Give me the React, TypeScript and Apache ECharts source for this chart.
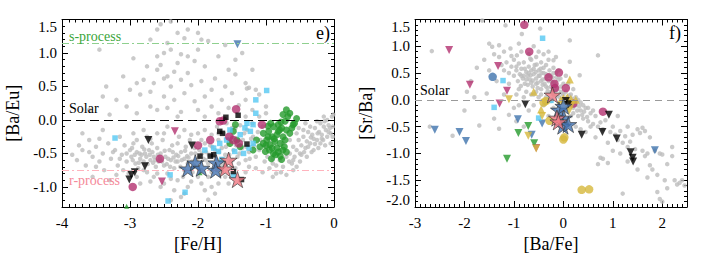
import React, { useEffect, useRef } from 'react';
import * as echarts from 'echarts';

type P = [number, number];

// ---------- Panel e) [Fe/H] vs [Ba/Eu] ----------
const leftGray: P[] = [
  [-3.45,1.05],[-2.55,1.43],[-2.4,1.47],[-2.2,1.22],[-2.0,1.3],[-2.6,1.35],[-2.45,1.15],[-1.85,1.18],[-1.6,1.12],[-2.7,1.2],
  [-2.95,0.92],[-2.75,0.8],[-2.6,0.75],[-2.55,0.82],[-2.3,0.85],[-2.35,0.72],[-2.15,0.95],[-2.05,0.88],[-1.9,0.8],[-2.8,0.6],
  [-2.65,0.55],[-2.5,0.62],[-2.4,0.5],[-2.25,0.6],[-2.1,0.52],[-1.95,0.58],[-1.75,0.62],[-1.55,0.75],[-1.45,0.68],[-1.3,0.55],
  [-1.25,0.48],[-1.15,0.45],[-1.1,0.38],[-2.85,0.38],[-2.7,0.42],[-2.5,0.35],[-2.35,0.3],[-2.2,0.4],[-2.05,0.28],[-1.9,0.35],
  [-1.8,0.2],[-1.65,0.3],[-1.5,0.4],[-1.4,0.22],[-1.3,0.3],[-3.2,0.3],[-3.05,0.2],[-3.3,0.08],[-3.6,0.15],[-2.9,0.1],
  [-2.6,0.15],[-2.45,0.18],[-2.25,0.12],[-2.0,0.15],[-1.7,0.1],[-1.55,0.18],[-1.2,0.15],[-1.0,0.2],[-3.35,0.5],[-2.0,1.05],
  [-1.7,0.95],[-1.35,1.0],[-3.1,0.65],[-1.2,0.75],[-1.28,0.47],
  [-2.9,0.55],[-2.6,0.95],[-2.4,1.05],[-2.3,1.3],[-2.15,1.35],[-1.95,1.2],[-2.25,0.98],[-2.5,1.0],[-1.8,0.45],[-1.6,0.5],
  [-2.15,0.7],[-2.45,0.65],[-2.7,0.2],[-2.3,0.05],[-1.9,0.05],[-3.4,0.35],[-3.0,0.45],[-1.45,0.9],
  [-3.85,-0.52],[-3.78,-0.6],[-3.7,-0.45],[-3.65,-0.68],[-3.6,-0.3],[-3.55,-0.55],[-3.5,-0.4],[-3.45,-0.62],[-3.4,-0.5],[-3.38,-0.75],
  [-3.32,-0.35],[-3.28,-0.58],[-3.22,-0.45],[-3.18,-0.68],[-3.12,-0.52],[-3.08,-0.38],[-3.05,-0.62],[-3.02,-0.8],[-3.4,-0.15],[-3.55,-0.85],
  [-3.7,-0.2],[-3.3,-0.9],[-3.15,-0.25],[-3.0,-0.45],
  [-2.98,-0.55],[-2.95,-0.35],[-2.92,-0.65],[-2.9,-0.48],[-2.88,-0.72],[-2.85,-0.58],[-2.82,-0.4],[-2.8,-0.62],[-2.78,-0.5],[-2.75,-0.78],
  [-2.72,-0.45],[-2.7,-0.6],[-2.68,-0.35],[-2.65,-0.55],[-2.62,-0.7],[-2.6,-0.42],[-2.58,-0.62],[-2.55,-0.5],[-2.52,-0.3],[-2.5,-0.68],
  [-2.48,-0.55],[-2.45,-0.8],[-2.42,-0.45],[-2.4,-0.6],[-2.38,-0.38],[-2.35,-0.72],[-2.32,-0.52],[-2.3,-0.62],[-2.28,-0.25],[-2.25,-0.48],
  [-2.22,-0.85],[-2.2,-0.58],[-2.18,-0.4],[-2.15,-0.65],[-2.12,-0.3],[-2.1,-0.5],[-2.08,-0.78],[-2.05,-0.42],[-2.02,-0.6],[-2.9,-0.85],
  [-2.7,-0.92],[-2.5,-0.95],[-2.35,-1.05],[-2.25,-1.15],[-2.4,-1.2],[-2.6,-0.2],[-2.8,-0.15],[-2.45,-0.1],[-2.2,-0.15],[-2.0,-0.2],
  [-2.95,-0.2],[-2.65,-0.85],[-2.3,-0.9],[-2.55,-1.0],[-2.15,-1.0],[-2.1,-0.92],[-2.75,-0.25],[-2.85,-0.95],[-2.2,-1.1],
  [-2.86,-0.5],[-2.76,-0.55],[-2.66,-0.64],[-2.56,-0.58],[-2.46,-0.66],[-2.36,-0.56],[-2.26,-0.7],[-2.16,-0.54],[-2.06,-0.68],[-2.96,-0.6],
  [-3.25,-0.48],[-3.15,-0.58],[-3.05,-0.5],[-2.97,-0.42],[-2.93,-0.52],[-2.87,-0.64],[-2.83,-0.52],[-2.79,-0.44],[-2.74,-0.66],[-2.71,-0.52],
  [-2.67,-0.48],[-2.63,-0.6],[-2.59,-0.52],[-2.53,-0.62],[-2.49,-0.46],[-2.44,-0.58],[-2.41,-0.7],[-2.37,-0.48],[-2.33,-0.62],[-2.29,-0.54],
  [-2.24,-0.6],[-2.19,-0.46],[-2.14,-0.56],[-2.09,-0.62],[-2.04,-0.5],[-1.99,-0.56],[-1.94,-0.5],[-1.89,-0.6],[-1.84,-0.52],[-1.79,-0.4],
  [-1.74,-0.58],[-1.69,-0.48],[-1.64,-0.66],[-1.59,-0.4],[-1.54,-0.52],[-1.49,-0.6],[-1.44,-0.38],[-1.39,-0.5],[-1.34,-0.3],[-1.29,-0.4],
  [-1.24,-0.58],[-1.19,-0.25],[-3.5,-0.7],[-3.6,-0.48],[-3.75,-0.38],[-3.45,-0.28],[-2.9,-0.3],[-2.7,-0.28],[-2.5,-0.2],[-2.3,-0.35],
  [-2.1,-0.22],[-1.9,-0.35],[-1.7,-0.2],[-1.5,-0.12],[-2.8,-0.75],[-2.6,-0.8],[-2.4,-0.88],[-2.2,-0.75],[-2.0,-0.85],[-1.8,-0.78],
  [-1.6,-0.68],[-1.4,-0.65],[-3.1,-0.75],[-3.2,-0.82],
  [-1.98,-0.45],[-1.95,-0.3],[-1.92,-0.58],[-1.9,-0.15],[-1.88,-0.48],[-1.85,-0.65],[-1.82,-0.38],[-1.8,-0.22],[-1.78,-0.55],[-1.75,-0.45],
  [-1.72,-0.1],[-1.7,-0.3],[-1.68,-0.6],[-1.65,-0.42],[-1.62,-0.2],[-1.6,-0.52],[-1.58,-0.05],[-1.55,-0.35],[-1.52,-0.62],[-1.5,-0.25],
  [-1.48,-0.45],[-1.45,-0.12],[-1.42,-0.55],[-1.4,-0.3],[-1.38,-0.08],[-1.35,-0.42],[-1.32,-0.2],[-1.3,-0.6],[-1.28,-0.15],[-1.25,-0.48],
  [-1.22,-0.28],[-1.2,-0.05],[-1.18,-0.38],[-1.15,-0.55],[-1.12,-0.18],[-1.1,-0.45],[-1.08,-0.3],[-1.05,-0.1],[-1.02,-0.62],[-1.0,-0.4],
  [-1.85,-0.85],[-1.8,-1.0],[-1.75,-1.1],[-1.7,-0.95],[-1.9,-1.05],[-1.95,-0.95],[-1.6,-0.85],[-1.55,-0.95],[-1.3,-0.78],[-1.25,-0.7],
  [-1.45,-0.72],[-1.65,-0.78],[-1.15,-0.72],[-1.05,-0.78],[-1.6,0.02],[-1.3,0.05],[-1.1,0.05],[-1.95,-0.75],[-1.85,-1.19],[-1.72,-0.75],
  [-0.98,-0.55],[-0.95,-0.72],[-0.9,-0.65],[-0.85,-0.8],[-0.8,-0.6],[-0.75,-0.7],[-0.7,-0.55],[-0.65,-0.5],[-0.62,-0.65],[-0.6,-0.4],
  [-0.58,-0.55],[-0.55,-0.45],[-0.52,-0.3],[-0.5,-0.5],[-0.48,-0.38],[-0.45,-0.25],[-0.42,-0.42],[-0.4,-0.32],[-0.38,-0.18],[-0.35,-0.35],
  [-0.32,-0.22],[-0.3,-0.28],[-0.28,-0.12],[-0.25,-0.3],[-0.22,-0.18],[-0.2,-0.05],[-0.18,-0.22],[-0.15,-0.1],[-0.12,-0.15],[-0.1,0.0],
  [-0.08,-0.08],[-0.05,-0.2],[-0.03,0.05],[-0.02,-0.1],[-0.01,0.08],[-0.15,0.05],[-0.25,-0.02],[-0.35,-0.1],[-0.45,-0.15],[-0.55,-0.2],
  [-0.65,-0.3],[-0.7,-0.82],[-0.6,-0.75],[-0.5,-0.62],[-0.4,-0.55],[-0.3,-0.45],[-0.2,-0.35],[-0.1,-0.25],[-0.05,-0.35],[-0.95,-0.3],
  [-1.0,0.1],[-0.8,-0.45],[-0.9,-0.85],[-0.75,-0.35],[-0.44,-0.48],[-0.34,-0.26],[-0.24,-0.2],[-0.14,-0.02],[-0.06,-0.12],[-0.16,-0.3],
  [-0.9,-0.58],[-0.85,-0.68],[-0.78,-0.78],[-0.66,-0.62],[-0.55,-0.7],[-0.48,-0.52],[-0.38,-0.4],[-0.28,-0.36],[-0.18,-0.28],[-0.08,-0.18],
  [-0.33,-0.48],[-0.23,-0.42],[-0.13,-0.38],[-0.02,-0.25],[-0.6,-0.6],[-0.42,-0.05],[-0.52,-0.12]
];
const leftGreen: P[] = [
  [-0.70,0.15],[-0.65,0.10],[-0.55,0.02],[-0.72,-0.02],[-0.82,-0.07],[-0.89,-0.10],[-0.77,-0.12],[-0.70,-0.15],[-0.96,-0.17],[-1.04,-0.20],
  [-0.84,-0.22],[-0.91,-0.25],[-0.75,-0.25],[-0.99,-0.30],[-0.87,-0.32],[-0.79,-0.35],[-0.94,-0.37],[-1.09,-0.40],[-0.84,-0.42],[-0.75,-0.45],
  [-1.01,-0.47],[-0.89,-0.50],[-0.79,-0.54],[-1.19,-0.45],[-1.14,-0.30],[-0.77,-0.59],[-0.97,-0.09],[-0.82,-0.17],[-0.72,-0.30],[-0.65,-0.20],
  [-0.60,-0.07],[-0.91,-0.42],[-1.04,-0.35],[-1.48,-0.17],[-1.43,-0.30],[-1.53,-0.35],[-1.38,-0.40],[-0.93,-0.05],[-0.78,-0.03],[-0.68,0.05],
  [-0.88,-0.28],[-0.73,-0.40],[-0.95,-0.45],[-0.86,-0.52],[-0.80,-0.15],[-0.62,-0.12],[-1.00,-0.38],[-0.92,-0.58],[-0.82,-0.48],[-0.70,-0.48],
  [-0.58,-0.05],[-0.75,0.08],[-0.97,-0.25],[-1.45,-0.07]
];
const leftGreenSmall: P[] = [[-1.97,-0.79],[-3.05,-1.29]];
const leftCyan: P[] = [
  [-0.99,0.44],[-1.15,0.30],[-1.15,0.10],[-1.28,-0.05],[-1.19,-0.07],[-1.31,-0.12],[-1.23,-0.17],[-1.38,-0.22],[-1.53,-0.15],[-1.58,-0.30],
  [-1.68,-0.35],[-1.77,-0.42],[-1.70,-0.47],[-1.46,-0.47],[-1.33,-0.50],[-1.19,-0.35],[-3.22,-0.27],[-2.41,-0.82],[-2.44,-1.21],[-2.19,-1.08],
  [-1.48,-0.84],[-1.65,-0.59],[-1.90,-0.45],[-1.25,-0.42]
];
const leftMagentaCircle: P[] = [
  [-1.44,0.16],[-1.68,-0.02],[-1.63,-0.01],[-1.06,-0.07],[-1.48,-0.30],[-1.40,-0.35],[-1.82,-0.30],[-2.00,-0.38],[-2.56,-0.58],[-2.96,-1.00],[-1.54,-0.25]
];
const leftMagentaTri: P[] = [[-2.34,-0.17],[-2.53,-0.92]];
const leftBlackTri: P[] = [[-2.73,-0.30],[-2.78,-0.69],[-2.93,-0.78],[-2.98,-0.82],[-3.01,-0.89],[-2.09,-0.38]];
const leftBlackSq: P[] = [[-1.59,0.04],[-1.41,0.07],[-1.68,-0.17],[-1.64,-0.20],[-1.28,-0.36],[-1.97,-0.54],[-1.82,-0.54],[-1.77,-0.52],[-1.48,-0.77],[-1.36,-0.89]];
const leftBlueTri: P[] = [[-1.42,1.13]];
const leftBlueStar: P[] = [[-2.15,-0.73],[-2.04,-0.64],[-1.95,-0.72],[-1.73,-0.64],[-1.74,-0.75]];
const leftPinkStar: P[] = [[-1.55,-0.60],[-1.60,-0.73],[-1.42,-0.89]];
const sProcess = 1.15;
const rProcess = -0.75;
const solar = 0;

// ---------- Panel f) [Ba/Fe] vs [Sr/Ba] ----------
const rightGray: P[] = [
  [-1.64,1.48],[-1.17,1.39],[-0.47,1.33],[0.13,1.11],[-0.84,1.23],[-1.5,1.05],[-1.44,0.99],[-2.66,0.91],[-1.07,0.96],[-0.94,0.83],
  [-0.67,0.77],[-0.2,0.74],[0.33,0.46],[0.7,0.83],[0.13,0.71],
  [-1.4,0.85],[-1.3,0.8],[-1.25,0.65],[-1.2,0.55],[-1.15,0.7],[-1.1,0.5],[-1.05,0.62],[-1.0,0.45],[-1.0,0.75],[-0.95,0.55],
  [-0.92,0.35],[-0.9,0.68],[-0.88,0.48],[-0.85,0.58],[-0.82,0.4],[-0.8,0.7],[-0.78,0.3],[-0.75,0.52],[-0.72,0.45],[-0.7,0.62],
  [-0.68,0.38],[-0.65,0.55],[-0.62,0.25],[-0.6,0.48],[-0.58,0.65],[-0.55,0.4],[-0.52,0.32],[-0.5,0.55],[-0.48,0.45],[-0.45,0.2],
  [-0.42,0.38],[-0.4,0.6],[-0.38,0.3],[-0.35,0.48],[-0.32,0.15],[-0.3,0.35],[-0.28,0.55],[-0.25,0.25],[-0.22,0.42],[-0.2,0.1],
  [-0.18,0.32],[-0.15,0.5],[-0.12,0.2],[-0.1,0.38],[-0.08,0.05],[-0.05,0.25],[-0.02,0.12],[0.0,0.3],[0.03,0.0],[0.05,0.15],
  [0.08,0.05],[0.1,-0.05],[0.12,0.08],[0.15,-0.1],[0.18,0.02],[0.2,-0.15],[-0.9,0.2],[-0.75,0.15],[-0.6,0.1],[-0.5,0.05],
  [-0.35,0.05],[-0.25,-0.02],[-0.65,0.75],[-0.55,0.8],[-0.45,0.7],[-0.35,0.65],[-0.85,0.9],[-0.7,0.85],[-1.1,0.3],[-0.3,0.75],
  [-0.2,0.6],[-0.1,0.55],[0.05,0.45],[0.1,0.3],[0.2,0.2],[-0.95,0.1],[-1.2,0.1],[-1.35,0.35],[-0.6,-0.1],[-0.7,-0.2],
  [-0.78,0.58],[-0.66,0.46],[-0.56,0.52],[-0.46,0.58],[-0.36,0.4],[-0.26,0.46],[-0.16,0.26],[-0.06,0.4],[-0.62,0.36],[-0.52,0.22],
  [-0.42,0.28],[-0.32,0.22],[-0.22,0.16],[-0.12,0.08],[-0.72,0.28],[-0.86,0.26],[-0.54,0.66],[-0.44,0.5],[-0.24,0.34],[-0.14,0.42],
  [-0.8,0.45],[-0.7,0.5],[-0.6,0.58],[-0.5,0.45],[-0.4,0.5],[-0.3,0.45],[-0.2,0.5],[-0.65,0.32],[-0.55,0.3],[-0.45,0.35],
  [-0.35,0.25],[-0.25,0.15],[-0.15,0.18],[-0.05,0.15],[0.0,0.1],[-0.75,0.38],[-0.85,0.45],[-0.95,0.62],[-1.05,0.82],[-1.2,0.9],
  [-1.3,1.02],[-0.5,0.9],[-0.4,0.85],[-0.3,0.9],[-0.15,0.8],[-0.6,1.0],[-0.9,1.05],[0.25,0.05],[0.3,0.0],[0.35,-0.05],
  [0.15,0.1],[0.4,-0.1],[0.5,-0.15],[0.6,-0.2],[0.1,-0.15],[-0.45,0.1],[-0.55,0.15],[-0.65,0.1],[-0.8,0.05],[-1.5,0.55],
  [-1.6,0.75],[-1.75,0.6],[-2.0,-0.2],[-1.95,0.15],[-2.7,-0.5],[-0.9,-0.1],[-0.2,-0.15],
  [-1.7,-0.48],[-1.3,-0.54],[-1.87,0.35],[-2.24,-0.67],[-1.1,-0.28],[-1.8,0.05],[-1.55,0.12],[-0.95,-0.4],[-0.8,-0.5],[-1.0,-0.15],
  [0.2,-0.25],[0.25,-0.1],[0.3,-0.3],[0.35,-0.2],[0.4,-0.35],[0.45,-0.15],[0.5,-0.4],[0.55,-0.25],[0.6,-0.45],[0.65,-0.3],
  [0.7,-0.5],[0.75,-0.42],[0.8,-0.55],[0.85,-0.38],[0.95,-0.6],[1.0,-0.5],[1.05,-0.65],[1.1,-0.75],[1.15,-0.58],[1.2,-0.8],
  [1.25,-0.68],[1.3,-0.88],[1.35,-0.78],[1.45,-0.92],[1.5,-0.55],[1.55,-0.62],[1.6,-0.95],[1.65,-1.05],[1.7,-1.0],[1.75,-1.22],
  [1.8,-1.3],[1.9,-1.4],[1.95,-1.0],[2.0,-1.02],[2.05,-1.5],[2.1,-1.2],[2.2,-0.88],[2.25,-1.5],[2.3,-1.58],[2.45,-1.6],
  [1.9,-1.72],[1.95,-1.85],[1.2,-1.75],[0.7,-1.2],[0.75,-1.08],[0.8,-1.1],[0.9,-1.18],[1.6,-0.52],[1.65,-0.58],[0.35,-0.55],
  [0.55,-0.5],[0.25,-0.5],[0.45,-0.6],[0.65,-0.7],[1.0,-0.95],[1.3,-1.15],[1.5,-1.3],[1.7,-1.45],[0.28,-0.2],[0.32,-0.12],
  [0.38,-0.28],[0.22,-0.05],[0.42,-0.22],[0.48,-0.32],[0.15,-0.3],[-0.4,-0.1],[-0.3,-0.3],[-1.4,-0.35],[2.4,-1.5],[1.85,-0.95],
  [1.1,-0.3],[1.3,-0.5],[0.9,-0.8],[1.15,-1.0],[1.4,-0.65],[1.75,-0.7],[2.2,-1.05],[2.35,-1.55],[2.1,-1.65],[2.0,-1.9]
];
const rightMagentaCircle: P[] = [[-0.79,1.40],[-0.69,0.90],[-0.09,0.51],[-0.30,0.42],[-0.18,0.30],[-0.17,0.22],[0.05,0.22],[0.20,-0.07],[0.80,-0.22]];
const rightMagentaTri: P[] = [[-2.31,0.93],[-1.32,0.63],[-1.89,0.28],[-1.14,0.17],[-1.29,-0.07],[-0.55,-0.90]];
const rightBlueCircle: P[] = [[-1.43,0.43]];
const rightBlueTri: P[] = [[-2.60,-0.56],[-2.10,-0.60],[-1.97,-0.77],[-0.92,-0.36],[-0.64,-0.65],[-0.43,-0.44],[1.85,-0.94]];
const rightCyan: P[] = [[-0.42,1.15],[-1.22,0.36],[-1.40,-0.14],[-0.50,-0.34],[-0.25,-0.01]];
const rightGreenTri: P[] = [[-0.71,-0.49],[-0.91,-0.62],[-0.59,-0.81],[-1.14,-1.10]];
const rightYellowCircle: P[] = [[-0.40,-0.05],[-0.28,-0.39],[0.00,-0.74],[0.37,-1.68],[0.52,-1.67],[-0.35,-0.02],[0.02,-0.70]];
const rightYellowUp: P[] = [[0.13,0.38],[-0.60,0.15],[0.00,0.03],[0.08,0.05],[0.15,0.02],[-0.05,0.00],[0.25,0.00],[-0.45,-0.18]];
const rightYellowDown: P[] = [[-1.10,0.01],[-0.43,-0.30],[-0.71,-0.67],[-0.55,-0.91],[0.17,-0.09],[0.12,-0.20]];
const rightBlackTri: P[] = [[-0.77,-0.08],[0.10,-0.08],[0.05,-0.02],[0.37,-0.65],[0.79,-0.60],[0.92,-0.28],[1.08,-0.72],[1.36,-0.98],[1.40,-1.08],[1.41,-1.15]];
const rightBlueStar: P[] = [[-0.09,-0.19],[0.00,-0.12],[0.01,-0.34],[-0.01,-0.49],[0.10,-0.46]];
const rightPinkStar: P[] = [[-0.22,0.09],[-0.13,-0.34],[-0.10,-0.41]];

// ---------- ticks ----------
const leftXTicks = [-4, -3, -2, -1, 0];
const leftYTicks = [-1.0, -0.5, 0.0, 0.5, 1.0, 1.5];
const rightXTicks = [-3, -2, -1, 0, 1, 2];
const rightYTicks = [-2.0, -1.5, -1.0, -0.5, 0.0, 0.5, 1.0, 1.5];

const FONT = 'Liberation Serif';
const STAR = 'path://M50,0 L61.2,34.5 L97.6,34.5 L68.2,55.9 L79.4,90.5 L50,69.1 L20.6,90.5 L31.8,55.9 L2.4,34.5 L38.8,34.5 Z';

function steps(min: number, max: number, step: number): number[] {
  const out: number[] = [];
  const n = Math.round((max - min) / step);
  for (let i = 0; i <= n; i++) out.push(Math.round((min + i * step) * 1000) / 1000);
  return out;
}

function makeAxes(dim: 'x' | 'y', grid: number, min: number, max: number, major: number[], minor: number[],
  name: string, nameGap: number, fmt: (v: number) => string, labelExtra: any) {
  const pos = dim === 'x' ? ['bottom', 'top'] : ['left', 'right'];
  const line = { onZero: false, show: true, lineStyle: { color: '#000', width: 1 } };
  const noLine = { onZero: false, show: false };
  const base: any = { type: 'value', gridIndex: grid, min, max, splitLine: { show: false }, axisLabel: { show: false } };
  const tick = (vals: number[], len: number) => ({ show: true, inside: true, length: len, customValues: vals, lineStyle: { color: '#000', width: 1 } });
  return [
    {
      ...base, position: pos[0], axisLine: line, axisTick: tick(major, 6),
      axisLabel: {
        show: true, customValues: major, formatter: fmt, color: '#000',
        fontFamily: FONT, fontSize: 15, fontWeight: 'normal',
        textStyle: { fontFamily: FONT, fontSize: 15 },
        margin: dim === 'x' ? 8 : 5, ...labelExtra,
      },
      name, nameLocation: 'middle', nameGap, nameTextStyle: { fontFamily: FONT, fontSize: 18, color: '#000' },
    },
    { ...base, position: pos[0], axisLine: noLine, axisTick: tick(minor, 3) },
    { ...base, position: pos[1], axisLine: line, axisTick: tick(major, 6) },
    { ...base, position: pos[1], axisLine: noLine, axisTick: tick(minor, 3) },
  ];
}

function sc(data: P[], axis: number, symbol: string, size: number, color: string, extra: any = {}) {
  return {
    type: 'scatter', xAxisIndex: axis, yAxisIndex: axis, data, symbol, symbolSize: size,
    itemStyle: { color, ...(extra.itemStyle || {}) }, z: extra.z ?? 3, symbolRotate: extra.rotate ?? 0,
    symbolKeepAspect: true, silent: true,
  };
}

function hline(axis: number, y: number, color: string, type: any, width = 1) {
  return {
    type: 'scatter', xAxisIndex: axis, yAxisIndex: axis, data: [], silent: true,
    markLine: { silent: true, symbol: 'none', label: { show: false }, lineStyle: { color, type, width }, data: [{ yAxis: y }] },
  };
}

export default function App() {
  const ref = useRef<HTMLDivElement>(null);
  useEffect(() => {
    if (!ref.current) return;
    const chart = echarts.init(ref.current, undefined, { renderer: 'svg' });
    const fmt1 = (v: number) => v.toFixed(1);
    const fmt0 = (v: number) => String(Math.round(v));
    const xAxis = [
      ...makeAxes('x', 0, -4, 0, leftXTicks, steps(-4, 0, 0.1), '[Fe/H]', 20, fmt0, {}),
      ...makeAxes('x', 1, -3, 2.5, rightXTicks, steps(-3, 2.5, 0.1), '[Ba/Fe]', 20, fmt0, {}),
    ];
    const yAxis = [
      ...makeAxes('y', 0, -1.3, 1.5, leftYTicks, steps(-1.3, 1.5, 0.1), '[Ba/Eu]', 40, fmt1, { verticalAlignMaxLabel: 'top' }),
      ...makeAxes('y', 1, -2.0, 1.5, rightYTicks, steps(-2.0, 1.5, 0.1), '[Sr/Ba]', 40, fmt1, { verticalAlignMaxLabel: 'top', verticalAlignMinLabel: 'bottom' }),
    ];
    const triDown = { rotate: 180 };
    const starStyle = (c: string) => ({ itemStyle: { color: c, borderColor: '#333', borderWidth: 0.8 }, z: 6 });
    const series: any[] = [
      hline(0, sProcess, '#8fd08f', [7, 3, 2, 3]),
      hline(0, rProcess, '#ffb3bd', [7, 3, 2, 3]),
      hline(0, solar, '#000', [9, 5]),
      hline(4, solar, '#9a9a9a', [7, 5]),
      sc(leftGray, 0, 'circle', 4.5, '#bdbdbd', { z: 2 }),
      sc(leftGreen, 0, 'circle', 7, '#249a2c'),
      sc(leftGreenSmall, 0, 'triangle', 5, '#249a2c'),
      sc(leftCyan, 0, 'rect', 5.5, '#55c8f2'),
      sc(leftMagentaCircle, 0, 'circle', 8.5, '#b3316f'),
      sc(leftMagentaTri, 0, 'triangle', 8, '#b3316f', triDown),
      sc(leftBlackTri, 0, 'triangle', 8, '#000', triDown),
      sc(leftBlackSq, 0, 'rect', 5.5, '#000'),
      sc(leftBlueTri, 0, 'triangle', 8, '#3f73ad', triDown),
      sc(leftBlueStar, 0, STAR, 17, '#4272b0', starStyle('#4272b0')),
      sc(leftPinkStar, 0, STAR, 17, '#f07882', starStyle('#f07882')),
      sc(rightGray, 4, 'circle', 4.5, '#bdbdbd', { z: 2 }),
      sc(rightMagentaCircle, 4, 'circle', 8.5, '#b3316f'),
      sc(rightMagentaTri, 4, 'triangle', 8, '#b3316f', triDown),
      sc(rightBlueCircle, 4, 'circle', 8.5, '#3f73ad'),
      sc(rightBlueTri, 4, 'triangle', 8, '#3f73ad', triDown),
      sc(rightCyan, 4, 'rect', 5.5, '#55c8f2'),
      sc(rightGreenTri, 4, 'triangle', 8, '#249a2c', triDown),
      sc(rightYellowCircle, 4, 'circle', 8.5, '#d6b83c'),
      sc(rightYellowUp, 4, 'triangle', 8, '#d6b83c'),
      sc(rightYellowDown, 4, 'triangle', 8, '#d6b83c', triDown),
      sc(rightBlackTri, 4, 'triangle', 8, '#000', triDown),
      sc(rightBlueStar, 4, STAR, 17, '#4272b0', starStyle('#4272b0')),
      sc(rightPinkStar, 4, STAR, 17, '#f07882', starStyle('#f07882')),
    ];
    const txt = (x: number, y: number, text: string, fill: string, size: number, align = 'left') => ({
      type: 'text', x, y, z: 10, silent: true,
      style: { text, fill, fontFamily: FONT, fontSize: size, fontWeight: 'normal', align, verticalAlign: 'middle' },
    });
    chart.setOption({
      animation: false,
      backgroundColor: '#fff',
      textStyle: { fontFamily: FONT, fontSize: 15, color: '#000' },
      grid: [
        { left: 62, top: 19.5, width: 272, height: 187.5 },
        { left: 415, top: 19.5, width: 272, height: 187.5 },
      ],
      xAxis, yAxis, series,
      graphic: [
        txt(69, 36, 's-process', '#3aa53a', 14),
        txt(69, 108, 'Solar', '#000', 14),
        txt(69, 180, 'r-process', '#f58a9a', 14),
        txt(330, 33, 'e)', '#000', 18, 'right'),
        txt(420, 90, 'Solar', '#000', 14),
        txt(681, 33, 'f)', '#000', 18, 'right'),
      ],
    });
    return () => chart.dispose();
  }, []);
  return <div ref={ref} style={{ position: 'fixed', left: 0, top: 0, width: 706, height: 259, background: '#fff' }} />;
}
